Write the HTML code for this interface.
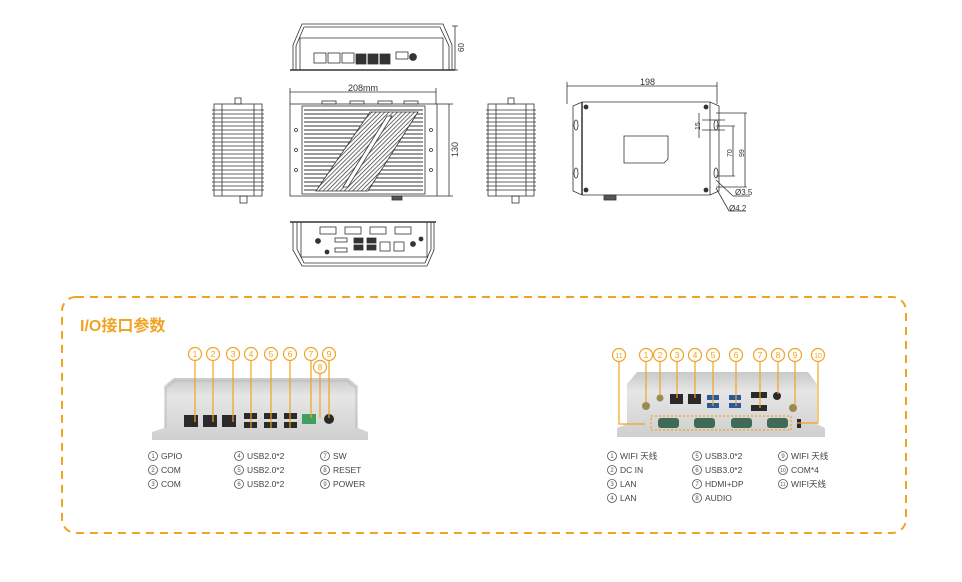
<!DOCTYPE html>
<html><head><meta charset="utf-8"><style>
html,body{margin:0;padding:0;background:#fff;}
svg{display:block;}
text{font-family:"Liberation Sans","Noto Sans CJK SC",sans-serif;}
</style></head><body>
<svg width="962" height="582" viewBox="0 0 962 582" xmlns="http://www.w3.org/2000/svg">
<defs>
<linearGradient id="mg" x1="0" y1="0" x2="0" y2="1">
<stop offset="0" stop-color="#c9c9c9"/><stop offset="0.3" stop-color="#e6e6e6"/><stop offset="1" stop-color="#cfcfcf"/></linearGradient>
<pattern id="hatch" width="3" height="3" patternUnits="userSpaceOnUse" patternTransform="rotate(45)">
<rect width="3" height="3" fill="#fff"/><line x1="0" y1="0" x2="0" y2="3" stroke="#333" stroke-width="1.4"/></pattern>
</defs>
<g fill="none" stroke="#333" stroke-width="0.8">
<!-- top view -->
<path d="M293 70 L293 45 L302 24 L443 24 L452 45 L452 70"/>
<path d="M296 70 L296 46 L304 27 L440 27 L449 46 L449 70"/>
<path d="M300 70 V38 H443 V70"/>
<line x1="290" y1="70" x2="455" y2="70" stroke-width="1.5"/>
<rect x="314" y="53" width="12" height="10"/><rect x="328" y="53" width="12" height="10"/><rect x="342" y="53" width="12" height="10"/>
<rect x="356" y="54" width="10" height="10" fill="#333"/><rect x="368" y="54" width="10" height="10" fill="#333"/><rect x="380" y="54" width="10" height="10" fill="#333"/>
<rect x="396" y="52" width="12" height="7"/><circle cx="413" cy="57" r="3.5" fill="#333"/>
<line x1="455" y1="26" x2="455" y2="70"/><line x1="452" y1="26" x2="458" y2="26"/><line x1="452" y1="70" x2="458" y2="70"/>
<!-- main top view -->
<line x1="290" y1="92" x2="436" y2="92"/><line x1="290" y1="88" x2="290" y2="104"/><line x1="436" y1="88" x2="436" y2="104"/>
<line x1="449" y1="104" x2="449" y2="196"/><line x1="437" y1="104" x2="453" y2="104"/><line x1="437" y1="196" x2="453" y2="196"/>
<rect x="290" y="104" width="147" height="92"/>
<rect x="302" y="106" width="123" height="88"/>
<g stroke-width="1">
<path d="M304 110H423M304 114H423M304 118H423M304 122H423M304 126H423M304 130H423M304 134H423M304 138H423M304 142H423M304 146H423M304 150H423M304 154H423M304 158H423M304 162H423M304 166H423M304 170H423M304 174H423M304 178H423M304 182H423M304 186H423M304 190H423"/>
</g>
<polygon points="370,112 418,112 368,191 316,191" fill="url(#hatch)" stroke="#333"/>
<polygon points="387,116 392,116 348,187 343,187" fill="#fff"/>
<circle cx="296" cy="130" r="1.5"/><circle cx="296" cy="150" r="1.5"/><circle cx="296" cy="170" r="1.5"/>
<circle cx="431" cy="130" r="1.5"/><circle cx="431" cy="150" r="1.5"/><circle cx="431" cy="170" r="1.5"/>
<rect x="322" y="101" width="14" height="3"/><rect x="350" y="101" width="14" height="3"/><rect x="378" y="101" width="14" height="3"/><rect x="404" y="101" width="14" height="3"/>
<rect x="392" y="196" width="10" height="4" fill="#555"/>
<!-- side views -->
<rect x="214" y="104" width="48" height="92"/>
<path d="M212 110H264M212 114H264M212 118H264M212 122H264M212 126H264M212 130H264M212 134H264M212 138H264M212 142H264M212 146H264M212 150H264M212 154H264M212 158H264M212 162H264M212 166H264M212 170H264M212 174H264M212 178H264M212 182H264M212 186H264M212 190H264"/>
<line x1="222" y1="104" x2="222" y2="196"/><line x1="254" y1="104" x2="254" y2="196"/>
<rect x="235" y="98" width="6" height="6"/><rect x="240" y="196" width="7" height="7"/>
<rect x="488" y="104" width="46" height="92"/>
<path d="M486 110H536M486 114H536M486 118H536M486 122H536M486 126H536M486 130H536M486 134H536M486 138H536M486 142H536M486 146H536M486 150H536M486 154H536M486 158H536M486 162H536M486 166H536M486 170H536M486 174H536M486 178H536M486 182H536M486 186H536M486 190H536"/>
<line x1="496" y1="104" x2="496" y2="196"/><line x1="526" y1="104" x2="526" y2="196"/>
<rect x="508" y="98" width="6" height="6"/><rect x="512" y="196" width="7" height="7"/>
<!-- bottom view -->
<line x1="290" y1="222" x2="436" y2="222" stroke-width="1.5"/>
<path d="M293 222 V250 L302 266 H427 L434 250 V222"/>
<path d="M297 222 V249 L304 263 H425 L431 249 V222"/>
<rect x="301" y="222" width="126" height="35"/>
<rect x="320" y="227" width="16" height="7"/><rect x="345" y="227" width="16" height="7"/><rect x="370" y="227" width="16" height="7"/><rect x="395" y="227" width="16" height="7"/>
<rect x="335" y="238" width="12" height="4"/><rect x="335" y="248" width="12" height="4"/>
<rect x="354" y="238" width="9" height="5" fill="#333"/><rect x="354" y="245" width="9" height="5" fill="#333"/>
<rect x="367" y="238" width="9" height="5" fill="#333"/><rect x="367" y="245" width="9" height="5" fill="#333"/>
<rect x="380" y="242" width="10" height="9"/><rect x="394" y="242" width="10" height="9"/>
<circle cx="318" cy="241" r="2.5" fill="#333"/><circle cx="327" cy="252" r="2" fill="#333"/><circle cx="413" cy="244" r="2.5" fill="#333"/><circle cx="421" cy="239" r="2" fill="#333"/>
<!-- right drawing -->
<line x1="567" y1="86" x2="717" y2="86"/><line x1="567" y1="82" x2="567" y2="104"/><line x1="717" y1="82" x2="717" y2="104"/>
<path d="M573 106 L582 102 H710 L719 106 V191 L710 195 H582 L573 191 Z"/>
<line x1="582" y1="102" x2="582" y2="195" stroke-width="1.5"/><line x1="710" y1="102" x2="710" y2="195"/>
<path d="M624 136 H668 V159 L664 163 H624 Z"/>
<circle cx="586" cy="107" r="2" fill="#333"/><circle cx="706" cy="107" r="2" fill="#333"/><circle cx="586" cy="190" r="2" fill="#333"/><circle cx="706" cy="190" r="2" fill="#333"/>
<ellipse cx="576" cy="125" rx="2" ry="5"/><ellipse cx="576" cy="173" rx="2" ry="5"/><ellipse cx="716" cy="125" rx="2" ry="5"/><ellipse cx="716" cy="173" rx="2" ry="5"/>
<rect x="604" y="195" width="12" height="5" fill="#555"/>
<line x1="702" y1="120" x2="725" y2="120"/><line x1="702" y1="130" x2="725" y2="130"/><line x1="699" y1="113" x2="699" y2="138"/>
<line x1="716" y1="126" x2="735" y2="126"/><line x1="716" y1="176" x2="735" y2="176"/><line x1="733" y1="126" x2="733" y2="176"/>
<line x1="716" y1="113" x2="747" y2="113"/><line x1="716" y1="187" x2="747" y2="187"/><line x1="745" y1="113" x2="745" y2="187"/>
<path d="M716 180 L733 196 H750"/><path d="M716 188 L729 211 H746"/>
</g>
<g fill="#333" font-size="9">
<text x="348" y="91">208mm</text>
<text x="640" y="85">198</text>
<text x="735" y="195" font-size="8">Ø3.5</text>
<text x="729" y="211" font-size="8">Ø4.2</text>
<text transform="translate(464 52) rotate(-90)" font-size="8">60</text>
<text transform="translate(458 157) rotate(-90)">130</text>
<text transform="translate(700 130) rotate(-90)" font-size="7">15</text>
<text transform="translate(732 157) rotate(-90)" font-size="7">70</text>
<text transform="translate(744 157) rotate(-90)" font-size="7">99</text>
</g>
<!-- IO section -->
<rect x="62" y="297" width="844" height="236" rx="14" fill="none" stroke="#f0a324" stroke-width="2" stroke-dasharray="8 6"/>
<text x="80" y="331" font-size="16" font-weight="bold" fill="#f0a324">I/O接口参数</text>
<!-- left photo -->
<path d="M152 440 V432 L164 428 V386 L174 378 H348 L358 386 V428 L368 432 V440 Z" fill="url(#mg)"/>
<path d="M166 428 V388 L175 381 H347 L356 388 V428" fill="none" stroke="#bbb" stroke-width="1"/>
<g fill="#2a2a2a">
<rect x="184" y="415" width="14" height="12"/><rect x="203" y="415" width="14" height="12"/><rect x="222" y="415" width="14" height="12"/>
<rect x="244" y="413" width="13" height="6"/><rect x="244" y="422" width="13" height="6"/>
<rect x="264" y="413" width="13" height="6"/><rect x="264" y="422" width="13" height="6"/>
<rect x="284" y="413" width="13" height="6"/><rect x="284" y="422" width="13" height="6"/>
<circle cx="329" cy="419" r="5"/>
</g>
<rect x="302" y="414" width="14" height="10" fill="#3fa060"/>
<g stroke="#f0a324" stroke-width="1.2" fill="#fff">
<line x1="195" y1="361" x2="195" y2="422"/><line x1="213" y1="361" x2="213" y2="422"/><line x1="233" y1="361" x2="233" y2="422"/>
<line x1="251" y1="361" x2="251" y2="428"/><line x1="271" y1="361" x2="271" y2="428"/><line x1="290" y1="361" x2="290" y2="428"/>
<line x1="311" y1="361" x2="311" y2="418"/><line x1="320" y1="374" x2="320" y2="418"/><line x1="329" y1="361" x2="329" y2="418"/>
<circle cx="195" cy="354" r="6.5"/><circle cx="213" cy="354" r="6.5"/><circle cx="233" cy="354" r="6.5"/><circle cx="251" cy="354" r="6.5"/><circle cx="271" cy="354" r="6.5"/><circle cx="290" cy="354" r="6.5"/><circle cx="311" cy="354" r="6.5"/><circle cx="329" cy="354" r="6.5"/><circle cx="320" cy="367" r="6.5"/>
</g>
<g fill="#f0a324" font-size="8.5" text-anchor="middle">
<text x="195" y="357">1</text><text x="213" y="357">2</text><text x="233" y="357">3</text><text x="251" y="357">4</text><text x="271" y="357">5</text><text x="290" y="357">6</text><text x="311" y="357">7</text><text x="329" y="357">9</text><text x="320" y="370">8</text>
</g>
<!-- right photo -->
<path d="M617 437 V428 L627 424 V384 L637 372 H808 L817 384 V424 L825 428 V437 Z" fill="url(#mg)"/>
<g fill="#2a2a2a">
<rect x="670" y="394" width="13" height="10"/><rect x="688" y="394" width="13" height="10"/>
<rect x="751" y="392" width="16" height="6"/><rect x="751" y="405" width="16" height="6"/>
<circle cx="777" cy="396" r="4"/><rect x="797" y="419" width="4" height="9"/>
</g>
<g fill="#2b5a9a"><rect x="707" y="395" width="12" height="5"/><rect x="707" y="403" width="12" height="5"/><rect x="729" y="395" width="12" height="5"/><rect x="729" y="403" width="12" height="5"/></g>
<g fill="#9a8a50"><circle cx="646" cy="406" r="4"/><circle cx="660" cy="398" r="3.5"/><circle cx="793" cy="408" r="4"/></g>
<g fill="#3f6a55"><rect x="658" y="418" width="21" height="10" rx="3"/><rect x="694" y="418" width="21" height="10" rx="3"/><rect x="731" y="418" width="21" height="10" rx="3"/><rect x="767" y="418" width="21" height="10" rx="3"/></g>
<rect x="651" y="416" width="140" height="14" fill="none" stroke="#f0a324" stroke-width="1.2" stroke-dasharray="2 2"/>
<g stroke="#f0a324" stroke-width="1.2" fill="none">
<polyline points="619,362 619,424 645,424"/><polyline points="818,362 818,423 797,423"/>
<line x1="646" y1="362" x2="646" y2="402"/><line x1="660" y1="362" x2="660" y2="395"/><line x1="677" y1="362" x2="677" y2="398"/><line x1="695" y1="362" x2="695" y2="398"/>
<line x1="713" y1="362" x2="713" y2="406"/><line x1="736" y1="362" x2="736" y2="406"/><line x1="760" y1="362" x2="760" y2="408"/><line x1="778" y1="362" x2="778" y2="394"/><line x1="795" y1="362" x2="795" y2="405"/>
</g>
<g stroke="#f0a324" stroke-width="1.2" fill="#fff">
<circle cx="619" cy="355" r="6.5"/><circle cx="646" cy="355" r="6.5"/><circle cx="660" cy="355" r="6.5"/><circle cx="677" cy="355" r="6.5"/><circle cx="695" cy="355" r="6.5"/><circle cx="713" cy="355" r="6.5"/><circle cx="736" cy="355" r="6.5"/><circle cx="760" cy="355" r="6.5"/><circle cx="778" cy="355" r="6.5"/><circle cx="795" cy="355" r="6.5"/><circle cx="818" cy="355" r="6.5"/>
</g>
<g fill="#f0a324" font-size="8.5" text-anchor="middle">
<text x="619" y="358" font-size="7">11</text><text x="646" y="358">1</text><text x="660" y="358">2</text><text x="677" y="358">3</text><text x="695" y="358">4</text><text x="713" y="358">5</text><text x="736" y="358">6</text><text x="760" y="358">7</text><text x="778" y="358">8</text><text x="795" y="358">9</text><text x="818" y="358" font-size="7">10</text>
</g>
<!-- legends -->
<g fill="#444" font-size="8.5">
<text x="161" y="459">GPIO</text><text x="161" y="473">COM</text><text x="161" y="487">COM</text>
<text x="247" y="459">USB2.0*2</text><text x="247" y="473">USB2.0*2</text><text x="247" y="487">USB2.0*2</text>
<text x="333" y="459">SW</text><text x="333" y="473">RESET</text><text x="333" y="487">POWER</text>
<text x="620" y="459">WIFI 天线</text><text x="620" y="473">DC IN</text><text x="620" y="487">LAN</text><text x="620" y="501">LAN</text>
<text x="705" y="459">USB3.0*2</text><text x="705" y="473">USB3.0*2</text><text x="705" y="487">HDMI+DP</text><text x="705" y="501">AUDIO</text>
<text x="791" y="459">WIFI 天线</text><text x="791" y="473">COM*4</text><text x="791" y="487">WIFI天线</text>
</g>
<g fill="none" stroke="#555" stroke-width="0.8">
<circle cx="153" cy="456" r="4.5"/><circle cx="153" cy="470" r="4.5"/><circle cx="153" cy="484" r="4.5"/>
<circle cx="239" cy="456" r="4.5"/><circle cx="239" cy="470" r="4.5"/><circle cx="239" cy="484" r="4.5"/>
<circle cx="325" cy="456" r="4.5"/><circle cx="325" cy="470" r="4.5"/><circle cx="325" cy="484" r="4.5"/>
<circle cx="612" cy="456" r="4.5"/><circle cx="612" cy="470" r="4.5"/><circle cx="612" cy="484" r="4.5"/><circle cx="612" cy="498" r="4.5"/>
<circle cx="697" cy="456" r="4.5"/><circle cx="697" cy="470" r="4.5"/><circle cx="697" cy="484" r="4.5"/><circle cx="697" cy="498" r="4.5"/>
<circle cx="783" cy="456" r="4.5"/><circle cx="783" cy="470" r="4.5"/><circle cx="783" cy="484" r="4.5"/>
</g>
<g fill="#555" font-size="6" text-anchor="middle">
<text x="153" y="458">1</text><text x="153" y="472">2</text><text x="153" y="486">3</text>
<text x="239" y="458">4</text><text x="239" y="472">5</text><text x="239" y="486">6</text>
<text x="325" y="458">7</text><text x="325" y="472">8</text><text x="325" y="486">9</text>
<text x="612" y="458">1</text><text x="612" y="472">2</text><text x="612" y="486">3</text><text x="612" y="500">4</text>
<text x="697" y="458">5</text><text x="697" y="472">6</text><text x="697" y="486">7</text><text x="697" y="500">8</text>
<text x="783" y="458">9</text><text x="783" y="472" font-size="5">10</text><text x="783" y="486" font-size="5">11</text>
</g>
</svg>
</body></html>
